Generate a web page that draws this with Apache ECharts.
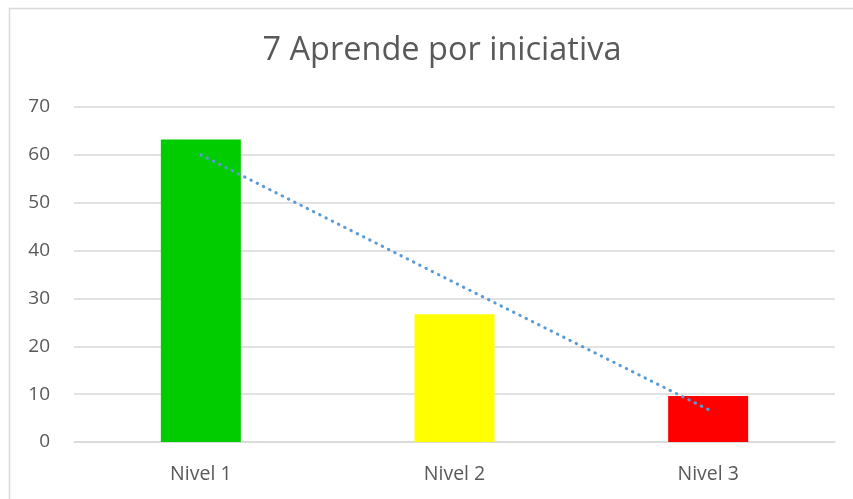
<!DOCTYPE html>
<html>
<head>
<meta charset="utf-8">
<script src="https://cdn.jsdelivr.net/npm/echarts@6/dist/echarts.min.js"></script>
<style>
  html, body { margin: 0; padding: 0; background: #fff; }
  #myChart1 { width: 853px; height: 499px; }
</style>
</head>
<body>
<div id="myChart1"></div>
<script>
var categories = ['Nivel 1', 'Nivel 2', 'Nivel 3'];
var values = [63.2, 26.7, 9.6];
var barColors = ['#00CC00', '#FFFF00', '#FF0000'];
// linear trendline at each category
var trendValues = [60.0, 33.3, 6.8];
var yTicks = { min: 0, max: 70, interval: 10 };

var myChart = echarts.init(document.getElementById("myChart1"));
var option = {
    backgroundColor: '#fff',
    animation: false,
    title: {
        text: '7 Aprende por iniciativa',
        left: 437,
        top: 29,
        textAlign: 'center',
        textStyle: {
            color: '#595959',
            fontFamily: 'Open Sans',
            fontWeight: 'normal',
            fontSize: 32.5
        }
    },
    graphic: [{
        type: 'rect',
        shape: { x: 9.5, y: 8.5, width: 900, height: 600 },
        style: { fill: 'none', stroke: '#D9D9D9', lineWidth: 1.5 },
        silent: true
    }],
    grid: {
        left: 74,
        right: 18,
        top: 107,
        bottom: 57
    },
    xAxis: {
        type: 'category',
        data: categories,
        axisLine: { lineStyle: { color: '#D9D9D9', width: 1.5 } },
        axisTick: { show: false },
        axisLabel: {
            color: '#595959',
            fontFamily: 'Open Sans',
            fontSize: 19.5,
            margin: 22
        }
    },
    yAxis: {
        type: 'value',
        min: yTicks.min,
        max: yTicks.max,
        interval: yTicks.interval,
        axisLine: { show: false },
        axisTick: { show: false },
        splitLine: { lineStyle: { color: '#D9D9D9', width: 1.5 } },
        axisLabel: {
            color: '#595959',
            fontFamily: 'Open Sans',
            fontSize: 19,
            margin: 24
        }
    },
    series: [{
        type: 'bar',
        barWidth: 80,
        data: values.map(function (v, i) {
            return { value: v, itemStyle: { color: barColors[i] } };
        })
    }, {
        type: 'line',
        data: trendValues,
        showSymbol: false,
        z: 5,
        lineStyle: {
            color: '#5B9BD5',
            width: 3,
            type: [0.5, 6.5],
            cap: 'round'
        }
    }]
};
myChart.setOption(option);
</script>
</body>
</html>
